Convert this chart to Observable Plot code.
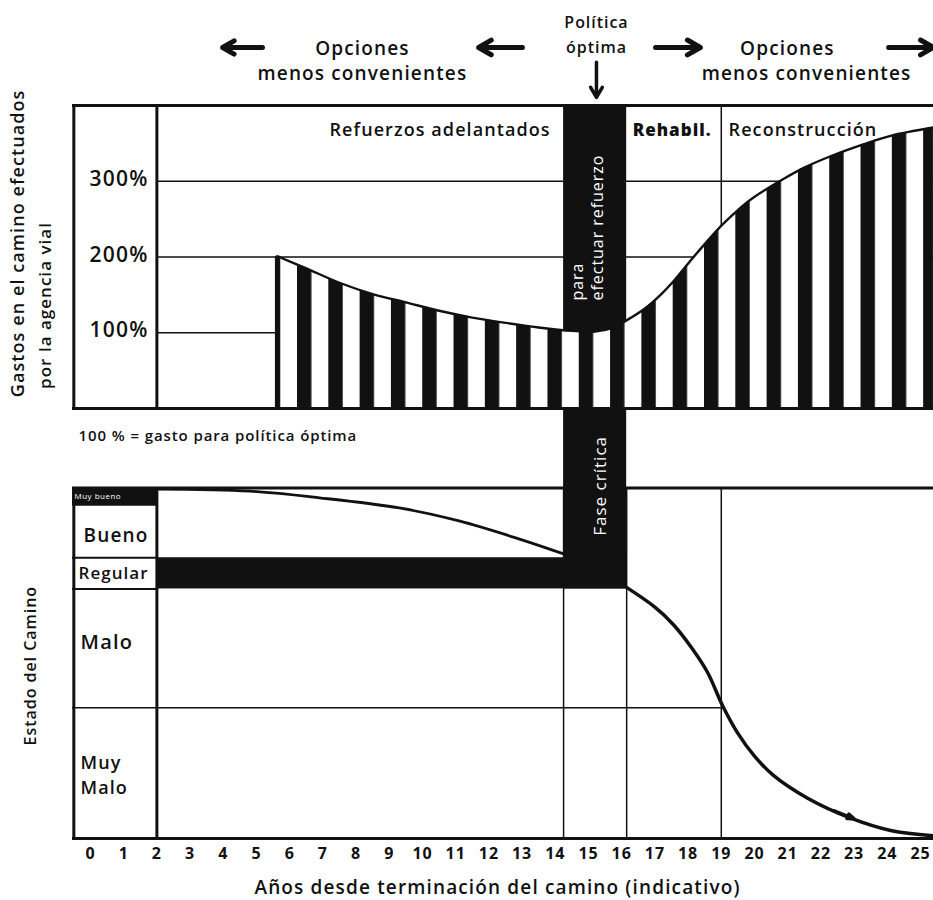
<!DOCTYPE html>
<html><head><meta charset="utf-8">
<script src="https://cdn.jsdelivr.net/npm/d3@7"></script>
<script src="https://cdn.jsdelivr.net/npm/@observablehq/plot@0.6"></script>
<style>
body{margin:0;background:#fff;}
#wrap{position:relative;width:933px;height:900px;overflow:hidden;font-family:"Open Sans",sans-serif;}
#wrap svg{position:absolute;left:0;}
#wrap svg text{letter-spacing:0.06em;}
</style></head><body><div id="wrap"></div>
<script>
// ---------- data ----------
const tickYears = [0,1,2,3,4,5,6,7,8,9,10,11,12,13,14,15,16,17,18,19,20,21,22,23,24,25];
const xDomain = [-0.542, 25.392];

// upper panel: expenditure (% of optimal policy)
const costYears = [5.63, 6.5, 7.5, 8.5, 9.5, 10.5, 11.5, 12.5, 13.5, 14.5, 15.2, 15.7, 16.17, 16.7, 17.17, 17.6, 18.07, 18.5, 19.04, 19.5, 19.95, 20.87, 21.5, 22.29, 23.3, 24.1, 25.39];
const costPct   = [201,  185, 166, 151, 140,  129,  120,  113,  107,  102.5, 101.5, 106, 117, 132,  150,  170,  195,   217,  243,   262,  278,   303,   318,  333,   349,  360,  371];
const pctTicks = [100, 200, 300];
const pctTickLabels = ["100%", "200%", "300%"];
const criticalPhase = [14.25, 16.15];
const rehabEndYear = 19;
const labelColumnEnd = 2;
const stripeStartYear = 6.235, stripePeriodYears = 0.943, stripeBlackShare = 0.46;

// lower panel: road condition (0 = worst, 100 = best)
const conditionBands  = ["Muy bueno", "Bueno", "Regular", "Malo", "Muy Malo"];
const conditionBounds = [100, 95.2, 80.1, 71.2, 37.3, 0];
const condLeftYears   = [2, 4.8, 6.9, 9.3, 11.1, 12.9, 14.25];
const condLeftValues  = [99.7, 99.1, 97.2, 94.3, 90.6, 85.5, 81.2];
const condRightYears  = [16.17, 17.0, 17.56, 18.1, 18.58, 19.04, 19.5, 20.0, 20.57, 21.6, 22.9, 24.1, 25.39];
const condRightValues = [71.5, 66.0, 61.0, 54.5, 47.5, 37.9, 30.0, 23.5, 18.0, 11.5, 5.8, 2.3, 0.8];

// header annotations (x in years, y in % units of the upper scale)
const headerArrows = [
  {x1: 5.18, x2: 3.98, y: 476.6}, {x1: 13.01, x2: 11.69, y: 476.6},
  {x1: 17.02, x2: 18.37, y: 476.6}, {x1: 24.04, x2: 25.39, y: 476.6}
];
const headerTexts = [
  {x: 15.24, y: 509.6, t: "Política", s: 16},
  {x: 15.24, y: 476.6, t: "óptima", s: 16},
  {x: 8.19, y: 475, t: "Opciones", s: 19},
  {x: 8.19, y: 442, t: "menos convenientes", s: 19},
  {x: 20.99, y: 475, t: "Opciones", s: 19},
  {x: 21.57, y: 442, t: "menos convenientes", s: 19}
];

const costData = costYears.map((x, i) => ({year: x, pct: costPct[i]}));
const condLeft = condLeftYears.map((x, i) => ({year: x, c: condLeftValues[i]}));
const condRight = condRightYears.map((x, i) => ({year: x, c: condRightValues[i]}));
const bands = conditionBands.map((b, i) => ({name: b, top: conditionBounds[i], bottom: conditionBounds[i + 1]}));

const INK = "#111";
const FONT = '"Open Sans", sans-serif';
const x0 = xDomain[0], x1 = xDomain[1];

// ---------- upper panel ----------
const upper = Plot.plot({
  width: 933, height: 445,
  marginLeft: 72, marginRight: 0, marginTop: 105, marginBottom: 37,
  x: {domain: xDomain, axis: null},
  y: {domain: [0, 400], axis: null},
  style: {background: "transparent", fontFamily: FONT, color: INK},
  marks: [
    Plot.ruleY(pctTicks, {x1: labelColumnEnd, x2: x1, stroke: INK, strokeWidth: 1.4}),
    Plot.ruleX([rehabEndYear], {y1: 0, y2: 400, stroke: INK, strokeWidth: 1.5}),
    Plot.rect([criticalPhase], {x1: d => d[0], x2: d => d[1], y1: 0, y2: 400, fill: INK}),
    Plot.areaY(costData, {x: "year", y: "pct", fill: "url(#stripes)", curve: "catmull-rom"}),
    Plot.lineY(costData, {x: "year", y: "pct", stroke: INK, strokeWidth: 2.4, curve: "catmull-rom"}),
    Plot.ruleX([costData[0]], {x: "year", y1: 0, y2: "pct", stroke: INK, strokeWidth: 5}),
    Plot.ruleX([x0 + 0.04, labelColumnEnd], {y1: 0, y2: 400, stroke: INK, strokeWidth: 3}),
    Plot.ruleY([0, 400], {x1: x0, x2: x1, stroke: INK, strokeWidth: 3}),
    Plot.text(pctTicks, {x: 1.75, y: d => d, text: (d, i) => pctTickLabels[i], textAnchor: "end", fontSize: 21, fontWeight: 600, fill: INK, dy: -2}),
    Plot.text(["Refuerzos adelantados"], {x: 13.86, y: 367, text: d => d, textAnchor: "end", fontSize: 18, fontWeight: 600, fill: INK}),
    Plot.text(["Rehabil."], {x: 16.33, y: 367, text: d => d, textAnchor: "start", fontSize: 17, fontWeight: 800, fill: INK}),
    Plot.text(["Reconstrucción"], {x: 19.22, y: 367, text: d => d, textAnchor: "start", fontSize: 18, fontWeight: 600, fill: INK}),
    Plot.text(["para"], {x: 14.67, y: 142.6, text: d => d, rotate: -90, textAnchor: "start", fontSize: 16, fill: "#fff"}),
    Plot.text(["efectuar refuerzo"], {x: 15.27, y: 142.6, text: d => d, rotate: -90, textAnchor: "start", fontSize: 16, fill: "#fff"}),
    Plot.text(["100 % = gasto para política óptima"], {x: -0.36, y: -37, text: d => d, textAnchor: "start", fontSize: 15, fontWeight: 600, fill: INK}),
    Plot.text(["Gastos en el camino efectuados"], {x: -2.17, y: 218, text: d => d, rotate: -90, fontSize: 18, fontWeight: 600, fill: INK}),
    Plot.text(["por la agencia vial"], {x: -1.36, y: 136, text: d => d, rotate: -90, fontSize: 17, fontWeight: 600, fill: INK}),
    Plot.text(headerTexts, {x: "x", y: "y", text: "t", fontSize: "s", fontWeight: 600, fill: INK}),
    Plot.arrow(headerArrows, {x1: "x1", x2: "x2", y1: "y", y2: "y", stroke: INK, strokeWidth: 5, headLength: 9, headAngle: 60}),
    Plot.arrow([{x: 15.24, ya: 457, yb: 410.6}], {x1: "x", x2: "x", y1: "ya", y2: "yb", stroke: INK, strokeWidth: 3.5, headLength: 8, headAngle: 60})
  ]
});

// stripe pattern aligned on the year scale
{
  const xs = upper.scale("x");
  const px = v => xs.range[0] + (v - xs.domain[0]) / (xs.domain[1] - xs.domain[0]) * (xs.range[1] - xs.range[0]);
  const p0 = px(stripeStartYear), period = px(stripeStartYear + stripePeriodYears) - p0;
  const defs = document.createElementNS("http://www.w3.org/2000/svg", "defs");
  defs.innerHTML = `<pattern id="stripes" patternUnits="userSpaceOnUse" x="${p0}" y="0" width="${period}" height="20"><rect width="${period}" height="20" fill="#fff"/><rect width="${period * stripeBlackShare}" height="20" fill="${INK}"/></pattern>`;
  upper.insertBefore(defs, upper.firstChild);
}

// ---------- lower panel ----------
const muyMaloWords = bands[4].name.split(" ");
const lower = Plot.plot({
  width: 933, height: 493,
  marginLeft: 72, marginRight: 0, marginTop: 80.5, marginBottom: 62,
  x: {domain: xDomain, axis: null},
  y: {domain: [0, 100], axis: null},
  style: {background: "transparent", fontFamily: FONT, color: INK},
  marks: [
    Plot.ruleX([criticalPhase[0], criticalPhase[1], rehabEndYear], {y1: 0, y2: 100, stroke: INK, strokeWidth: 1.5}),
    Plot.ruleY([conditionBounds[4]], {x1: x0, x2: rehabEndYear, stroke: INK, strokeWidth: 1.5}),
    Plot.ruleY(conditionBounds.slice(1, 4), {x1: x0, x2: labelColumnEnd, stroke: INK, strokeWidth: 2}),
    Plot.rect([bands[0]], {x1: x0, x2: labelColumnEnd, y1: "bottom", y2: "top", fill: INK}),
    Plot.rect([bands[2]], {x1: labelColumnEnd, x2: criticalPhase[1], y1: d => d.bottom, y2: d => d.top, fill: INK}),
    Plot.rect([criticalPhase], {x1: d => d[0], x2: d => d[1], y1: conditionBounds[3], y2: 123.5, fill: INK}),
    Plot.lineY(condLeft, {x: "year", y: "c", stroke: INK, strokeWidth: 2.8, curve: "catmull-rom"}),
    Plot.lineY(condRight, {x: "year", y: "c", stroke: INK, strokeWidth: 3.5, curve: "catmull-rom"}),
    Plot.arrow([{xa: 22.4, ya: 7.9, xb: 23.0, yb: 5.6}], {x1: "xa", y1: "ya", x2: "xb", y2: "yb", stroke: INK, strokeWidth: 3.5, headLength: 12, headAngle: 40}),
    Plot.ruleY([0, 100], {x1: x0, x2: x1, stroke: INK, strokeWidth: 3}),
    Plot.ruleX([x0 + 0.04, labelColumnEnd], {y1: 0, y2: 100, stroke: INK, strokeWidth: 3}),
    Plot.text([bands[0]], {x: -0.48, y: d => (d.top + d.bottom) / 2, text: "name", textAnchor: "start", fontSize: 8, fill: "#fff"}),
    Plot.text(["Bueno"], {x: -0.21, y: 86.3, text: d => d, textAnchor: "start", fontSize: 19, fontWeight: 600, fill: INK}),
    Plot.text(["Regular"], {x: -0.36, y: 75.6, text: d => d, textAnchor: "start", fontSize: 17, fontWeight: 600, fill: INK}),
    Plot.text(["Malo"], {x: -0.3, y: 55.8, text: d => d, textAnchor: "start", fontSize: 20, fontWeight: 600, fill: INK}),
    Plot.text([muyMaloWords[0]], {x: -0.3, y: 21.6, text: d => d, textAnchor: "start", fontSize: 18, fontWeight: 600, fill: INK}),
    Plot.text([muyMaloWords[1]], {x: -0.3, y: 14.4, text: d => d, textAnchor: "start", fontSize: 18, fontWeight: 600, fill: INK}),
    Plot.text(["Fase crítica"], {x: 15.36, y: 100.6, text: d => d, rotate: -90, fontSize: 17, fill: "#fff"}),
    Plot.text(["Estado del Camino"], {x: -1.81, y: 49.3, text: d => d, rotate: -90, fontSize: 16, fontWeight: 600, fill: INK}),
    Plot.text(tickYears, {x: d => d, frameAnchor: "bottom", dy: 20, text: d => String(d), fontSize: 16, fontWeight: 700, fill: INK}),
    Plot.text(["Años desde terminación del camino (indicativo)"], {x: 12.26, y: -14.2, text: d => d, fontSize: 19, fontWeight: 600, fill: INK})
  ]
});

const wrap = document.getElementById("wrap");
upper.style.top = "0px";
lower.style.top = "407px";
wrap.appendChild(upper);
wrap.appendChild(lower);
</script></body></html>
